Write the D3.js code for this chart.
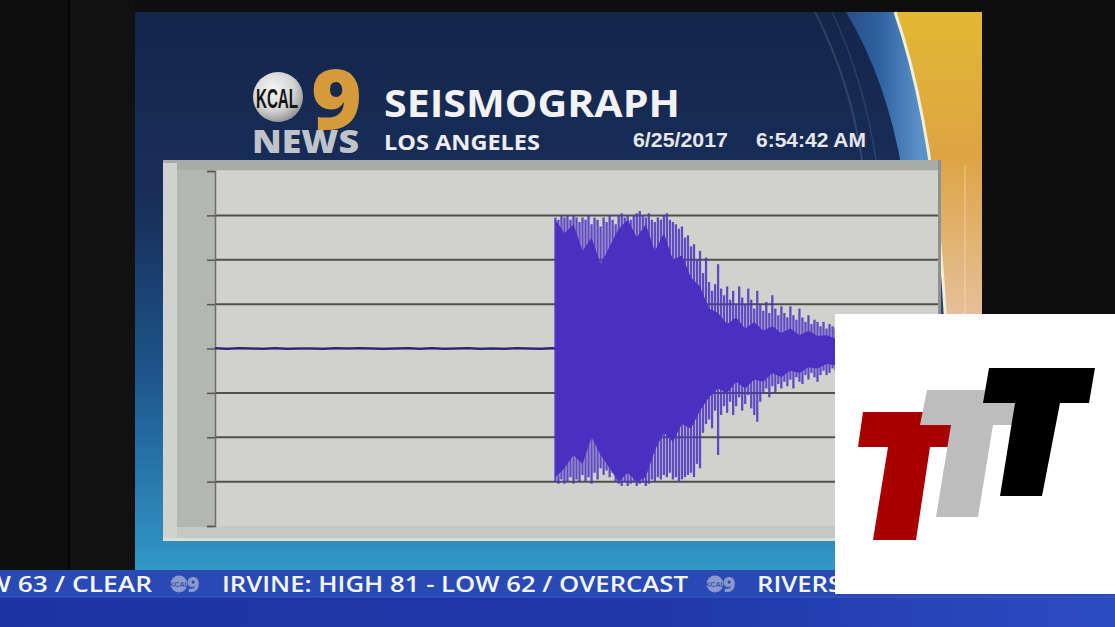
<!DOCTYPE html>
<html>
<head>
<meta charset="utf-8">
<script src="https://cdn.jsdelivr.net/npm/d3@7"></script>
<style>
  body { margin: 0; background: #0e0e0e; overflow: hidden; }
  svg { display: block; }
</style>
</head>
<body>
<svg width="1115" height="627"></svg>
<script>
// ---- values ----
const yTicks = [-4, -3, -2, -1, 0, 1, 2, 3, 4]
const gridValues = [-3, -2, -1, 0, 1, 2, 3]

// quiet trace before the shaking, one reading every 4 s
const quietStep = 4
const quietValues = [0.01, -0.01, 0.01, 0, -0.01, 0.01, -0.01, 0, 0, -0.01, 0.01, 0, 0.01, 0,
  -0.01, 0, 0.01, -0.01, 0.01, -0.01, 0, 0.01, -0.01, 0, -0.01, 0.01, 0, -0.01, 0.01]

// shaking, one reading per second from burstStart
const burstStart = 113
const spikeHigh = [2.95, 2.9, 3.0, 2.95, 3.0, 2.9, 3.0, 2.95, 2.85, 2.95, 2.9, 3.0, 2.8, 2.95, 2.9, 2.75,
  2.95, 2.85, 3.0, 2.9, 2.8, 3.0, 3.05, 2.95, 3.0, 2.9, 3.0, 3.05, 3.1, 3.0, 2.95, 3.05, 2.9, 2.85,
  2.95, 2.9, 3.0, 3.05, 2.9, 2.85, 2.8, 2.7, 2.75, 2.5, 2.55, 2.3, 2.35, 2.0, 2.2, 1.7, 2.05, 1.5,
  1.3, 1.45, 1.9, 1.35, 1.2, 1.4, 1.1, 1.3, 1.0, 1.4, 1.15, 1.0, 1.35, 1.1, 0.9, 1.3, 1.0, 0.85,
  1.05, 0.8, 1.2, 0.9, 0.75, 0.95, 0.8, 0.7, 0.95, 0.75, 0.65, 0.9, 0.7, 0.6, 0.75, 0.55, 0.65, 0.6,
  0.5, 0.6, 0.45, 0.55, 0.5, 0.45, 0.5, 0.4, 0.45, 0.4]
const spikeLow = [-3.0, -3.05, -2.95, -3.05, -3.0, -2.9, -3.05, -2.95, -3.0, -2.85, -3.0, -2.9, -3.05,
  -2.8, -2.95, -2.7, -2.85, -2.75, -2.9, -2.8, -3.0, -3.05, -3.1, -3.0, -3.1, -3.05, -3.0, -3.1, -3.05,
  -3.0, -3.1, -3.05, -2.95, -3.0, -2.9, -2.95, -2.85, -2.9, -2.8, -2.95, -2.9, -3.0, -2.95, -2.9, -2.85,
  -2.8, -2.9, -2.6, -2.7, -1.9, -1.7, -1.6, -1.8, -1.4, -2.4, -1.5, -1.3, -1.45, -1.2, -1.5, -1.3, -1.1,
  -1.4, -1.25, -1.05, -1.35, -1.5, -1.65, -1.2, -1.0, -0.9, -1.1, -0.85, -1.0, -0.8, -0.9, -0.75, -0.85,
  -0.7, -0.9, -0.65, -0.75, -0.8, -0.6, -0.7, -0.55, -0.65, -0.75, -0.6, -0.5, -0.6, -0.55, -0.45, -0.5,
  -0.45, -0.4, -0.45, -0.4]

// dense core of the trace, one reading every 3 s from burstStart
const coreStep = 3
const coreHigh = [2.9, 2.6, 2.8, 2.2, 2.5, 1.9, 2.3, 2.7, 2.9, 2.5, 2.8, 2.2, 2.6, 2.0, 2.1, 1.6, 1.4,
  0.9, 0.8, 0.55, 0.7, 0.45, 0.6, 0.4, 0.5, 0.35, 0.45, 0.3, 0.4, 0.28, 0.3, 0.22, 0.25]
const coreLow = [-2.9, -2.7, -2.4, -2.6, -2.0, -2.4, -2.7, -3.0, -2.8, -3.0, -2.9, -2.3, -1.9, -2.1, -1.7,
  -1.8, -1.4, -1.1, -0.9, -1.0, -0.75, -0.9, -0.7, -0.75, -0.55, -0.65, -0.5, -0.55, -0.42, -0.45, -0.35,
  -0.38, -0.3]

const tickerItems = ["W 63 / CLEAR", "IRVINE: HIGH 81 - LOW 62 / OVERCAST", "RIVERSIDE"]

// ---- drawing ----
const svg = d3.select("svg")
const defs = svg.append("defs")

function linGrad(id, x1, y1, x2, y2, stops) {
  const g = defs.append("linearGradient").attr("id", id)
    .attr("gradientUnits", "userSpaceOnUse")
    .attr("x1", x1).attr("y1", y1).attr("x2", x2).attr("y2", y2)
  stops.forEach(s => g.append("stop").attr("offset", s[0]).attr("stop-color", s[1]))
}

linGrad("panelGrad", 0, 12, 0, 570, [[0, "#14254a"], [0.35, "#182f5a"], [0.65, "#1d558c"], [1, "#3198c6"]])
linGrad("swooshBlue", 846, 0, 920, 0, [[0, "#2a4f86"], [0.45, "#2d62a0"], [1, "#5a92c8"]])
linGrad("swooshGold", 0, 12, 0, 330, [[0, "#e2b832"], [0.45, "#dea444"], [1, "#e6c2a2"]])
linGrad("tickerLow", 0, 0, 1115, 0, [[0, "#1c34a2"], [0.6, "#2038aa"], [1, "#2c4cc2"]])
const knob = defs.append("radialGradient").attr("id", "knob").attr("cx", "40%").attr("cy", "35%").attr("r", "70%")
knob.append("stop").attr("offset", 0).attr("stop-color", "#f6f6f6")
knob.append("stop").attr("offset", 0.6).attr("stop-color", "#d4d4d4")
knob.append("stop").attr("offset", 1).attr("stop-color", "#8e8e8e")

// dark surround
svg.append("rect").attr("width", 1115).attr("height", 627).attr("fill", "#0e0e0e")
svg.append("rect").attr("x", 70).attr("width", 65).attr("height", 570).attr("fill", "#111111")
svg.append("line").attr("x1", 69).attr("x2", 69).attr("y1", 0).attr("y2", 570).attr("stroke", "#050505").attr("stroke-width", 2)

// TV panel
svg.append("rect").attr("x", 135).attr("y", 12).attr("width", 847).attr("height", 558).attr("fill", "url(#panelGrad)")
svg.append("path").attr("d", "M846,12 Q887,80 903,175 L982,175 L982,12 Z").attr("fill", "url(#swooshBlue)")
svg.append("path").attr("d", "M815,12 Q850,80 862,160").attr("fill", "none").attr("stroke", "rgba(255,255,255,0.12)").attr("stroke-width", 2)
svg.append("path").attr("d", "M832,12 Q864,80 876,160").attr("fill", "none").attr("stroke", "rgba(255,255,255,0.1)").attr("stroke-width", 1.5)
svg.append("path").attr("d", "M895,12 Q936,130 946,330 L950,570 L982,570 L982,12 Z").attr("fill", "url(#swooshGold)")
svg.append("path").attr("d", "M895,12 Q936,130 946,330 L950,570").attr("fill", "none").attr("stroke", "#f3efd6").attr("stroke-width", 3)
svg.append("line").attr("x1", 965).attr("x2", 965).attr("y1", 165).attr("y2", 314).attr("stroke", "rgba(255,235,210,0.5)")

// header: station logo
svg.append("circle").attr("cx", 278).attr("cy", 97).attr("r", 25).attr("fill", "url(#knob)")
svg.append("text").attr("transform", "translate(277,108) scale(0.8,1.45)").attr("text-anchor", "middle")
  .attr("font-family", "'Liberation Sans Narrow', 'Liberation Sans', sans-serif").attr("font-weight", 700)
  .attr("font-size", 19).attr("fill", "#151515").text("KCAL")
svg.append("text").attr("x", 311).attr("y", 129).attr("textLength", 51).attr("lengthAdjust", "spacingAndGlyphs")
  .attr("font-family", "'Open Sans', sans-serif").attr("font-weight", 800)
  .attr("font-size", 84).attr("fill", "#d49a3c").text("9")
svg.append("text").attr("x", 252).attr("y", 153).attr("textLength", 107).attr("lengthAdjust", "spacingAndGlyphs")
  .attr("font-family", "'Open Sans', sans-serif").attr("font-weight", 800)
  .attr("font-size", 32).attr("fill", "#bfc3ca").text("NEWS")

// header: titles
svg.append("text").attr("x", 384).attr("y", 117).attr("textLength", 296).attr("lengthAdjust", "spacingAndGlyphs")
  .attr("font-family", "'Open Sans', sans-serif").attr("font-weight", 700)
  .attr("font-size", 38).attr("fill", "#f2f2f4").text("SEISMOGRAPH")
svg.append("text").attr("x", 384).attr("y", 150).attr("textLength", 156).attr("lengthAdjust", "spacingAndGlyphs")
  .attr("font-family", "'Open Sans', sans-serif").attr("font-weight", 700)
  .attr("font-size", 22).attr("fill", "#eeeef2").text("LOS ANGELES")
svg.append("text").attr("x", 633).attr("y", 147).attr("textLength", 95).attr("lengthAdjust", "spacingAndGlyphs")
  .attr("font-family", "'Liberation Sans Narrow', 'Liberation Sans', sans-serif").attr("font-weight", 700)
  .attr("font-size", 21).attr("fill", "#e6e6ee").text("6/25/2017")
svg.append("text").attr("x", 756).attr("y", 147).attr("textLength", 110).attr("lengthAdjust", "spacingAndGlyphs")
  .attr("font-family", "'Liberation Sans Narrow', 'Liberation Sans', sans-serif").attr("font-weight", 700)
  .attr("font-size", 21).attr("fill", "#e6e6ee").text("6:54:42 AM")

// chart frame
svg.append("rect").attr("x", 163).attr("y", 160).attr("width", 778).attr("height", 381).attr("fill", "#c6c8c5")
svg.append("rect").attr("x", 163).attr("y", 160).attr("width", 778).attr("height", 10).attr("fill", "#a9aba8")
svg.append("rect").attr("x", 163).attr("y", 163).attr("width", 14).attr("height", 378).attr("fill", "#d0d2cf")
svg.append("rect").attr("x", 177).attr("y", 170).attr("width", 38).attr("height", 357).attr("fill", "#b4b6b3")
svg.append("rect").attr("x", 163).attr("y", 538).attr("width", 778).attr("height", 3).attr("fill", "#dcdedb")
svg.append("rect").attr("x", 938).attr("y", 160).attr("width", 3).attr("height", 381).attr("fill", "#8f918e")

const x = d3.scaleLinear().domain([0, 240]).range([215, 938])
const y = d3.scaleLinear().domain([-4, 4]).range([526, 171])

svg.append("rect").attr("x", x(0)).attr("y", y(4)).attr("width", x(240) - x(0)).attr("height", y(-4) - y(4))
  .attr("fill", "#d1d2ce")

svg.append("g").selectAll("line").data(gridValues).join("line")
  .attr("x1", x(0)).attr("x2", x(240))
  .attr("y1", d => y(d)).attr("y2", d => y(d))
  .attr("stroke", "#4f514e").attr("stroke-width", 2)

const axis = svg.append("g").attr("transform", `translate(${x(0)},0)`)
  .call(d3.axisLeft(y).tickValues(yTicks).tickSize(8).tickFormat(""))
axis.select(".domain").attr("stroke", "#6c6e6b").attr("stroke-width", 1.5)
axis.selectAll(".tick line").attr("stroke", "#555755").attr("stroke-width", 1.5)

// trace
const quiet = quietValues.map((v, i) => ({ t: i * quietStep, v }))
quiet.push({ t: burstStart, v: 0 })
svg.append("path").datum(quiet)
  .attr("d", d3.line().x(d => x(d.t)).y(d => y(d.v)))
  .attr("fill", "none").attr("stroke", "#2b2470").attr("stroke-width", 2)

const spikes = spikeHigh.map((h, i) => ({ t: burstStart + i, hi: h, lo: spikeLow[i] }))
svg.append("g").selectAll("line").data(spikes).join("line")
  .attr("x1", d => x(d.t)).attr("x2", d => x(d.t))
  .attr("y1", d => y(d.hi)).attr("y2", d => y(d.lo))
  .attr("stroke", "#4c33c1").attr("stroke-width", 2.3).attr("stroke-opacity", 0.85)

const core = coreHigh.map((h, i) => ({ t: burstStart + i * coreStep, hi: h, lo: coreLow[i] }))
svg.append("path").datum(core)
  .attr("d", d3.area().x(d => x(d.t)).y0(d => y(d.lo)).y1(d => y(d.hi)))
  .attr("fill", "#4a2fc0")

// bottom ticker
svg.append("rect").attr("y", 570).attr("width", 1115).attr("height", 27).attr("fill", "#2949b4")
svg.append("rect").attr("y", 597).attr("width", 1115).attr("height", 30).attr("fill", "url(#tickerLow)")
svg.append("line").attr("x1", 0).attr("x2", 1115).attr("y1", 597).attr("y2", 597).attr("stroke", "#3a5cc4").attr("stroke-width", 1)

const tickerPos = [[-14, 166], [222, 466], [757, 126]]
svg.append("g").selectAll("text").data(tickerItems).join("text")
  .attr("x", (d, i) => tickerPos[i][0]).attr("y", 592)
  .attr("textLength", (d, i) => tickerPos[i][1]).attr("lengthAdjust", "spacingAndGlyphs")
  .attr("font-family", "'Open Sans', sans-serif").attr("font-weight", 600)
  .attr("font-size", 21).attr("fill", "#f4f6fb").text(d => d)

const bugs = svg.append("g").selectAll("g").data([170, 706]).join("g")
  .attr("transform", d => `translate(${d},0)`)
bugs.append("circle").attr("cx", 9).attr("cy", 584).attr("r", 8.5).attr("fill", "#8a98cc")
bugs.append("text").attr("x", 9).attr("y", 587).attr("text-anchor", "middle")
  .attr("font-family", "'Liberation Sans Narrow', sans-serif").attr("font-size", 7).attr("font-weight", 700)
  .attr("fill", "#3a52b0").text("KCAL")
bugs.append("text").attr("x", 17).attr("y", 592).attr("font-family", "'Open Sans', sans-serif")
  .attr("font-weight", 800).attr("font-size", 21).attr("fill", "#8a98cc").text("9")

// corner logo
svg.append("rect").attr("x", 835).attr("y", 314).attr("width", 280).attr("height", 280).attr("fill", "#ffffff")
const logoT = [
  { fill: "#a80000", pts: [[863, 412], [955, 412], [951, 447], [930, 447], [916, 540], [873, 540], [888, 447], [858, 447]] },
  { fill: "#bdbdbd", pts: [[927, 390], [1017, 390], [1012, 425], [993, 425], [978, 517], [936, 517], [951, 425], [920, 425]] },
  { fill: "#000000", pts: [[989, 368], [1095, 368], [1089, 403], [1060, 403], [1042, 496], [1000, 496], [1015, 403], [983, 403]] }
]
svg.append("g").selectAll("polygon").data(logoT).join("polygon")
  .attr("points", d => d.pts.map(p => p.join(",")).join(" "))
  .attr("fill", d => d.fill)
</script>
</body>
</html>
